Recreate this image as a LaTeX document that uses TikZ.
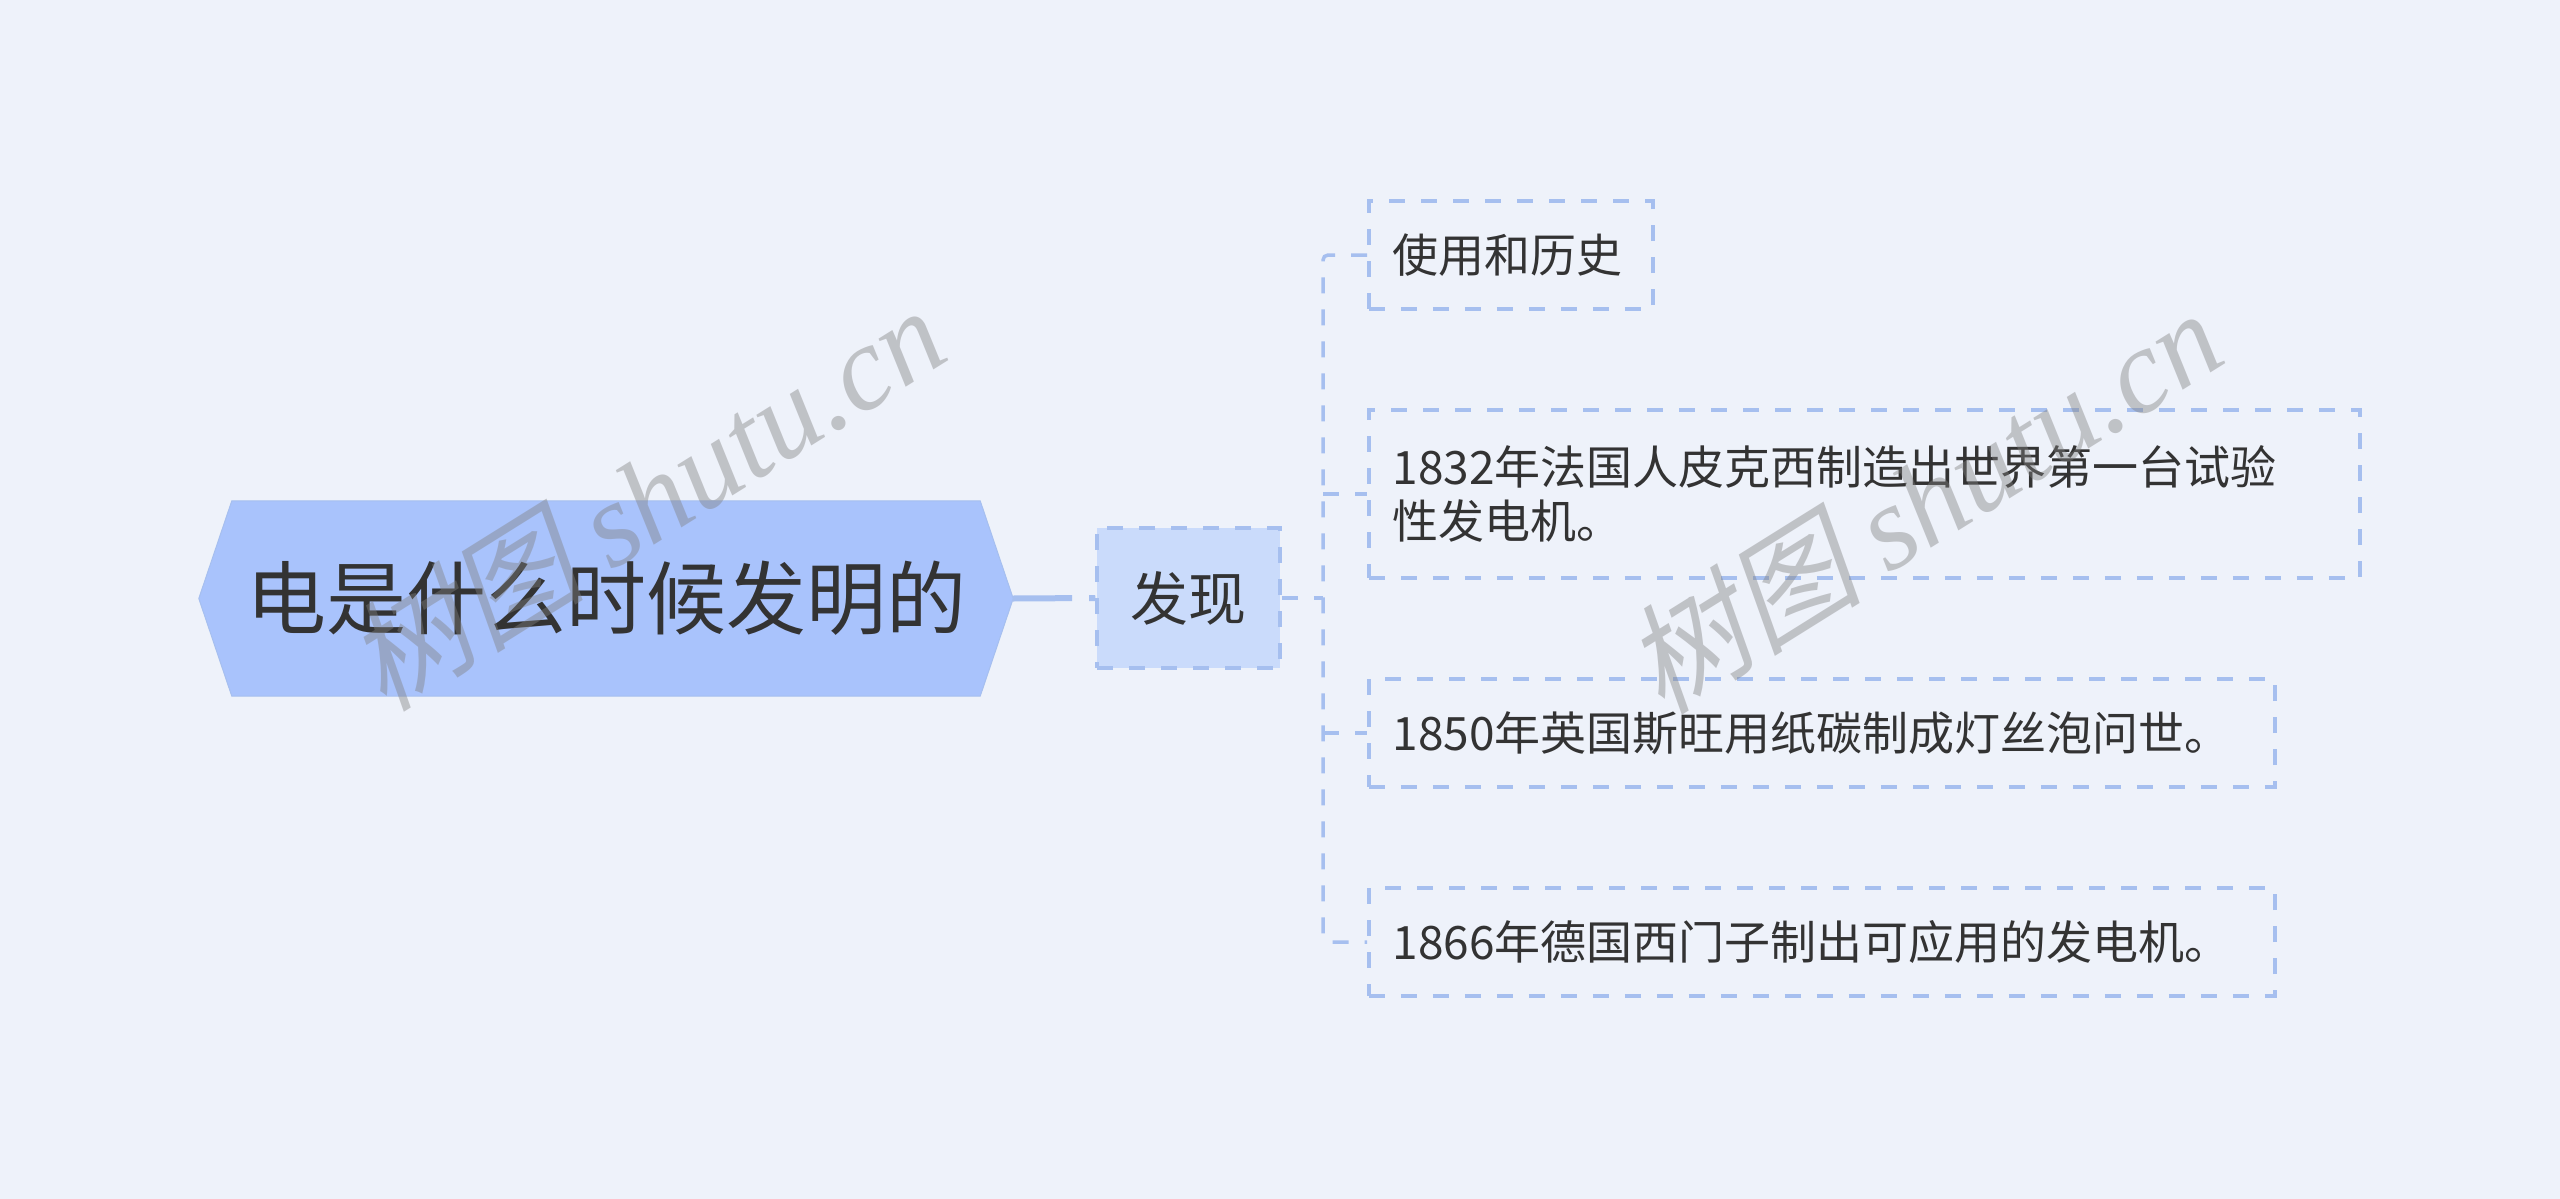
\documentclass[tikz,border=0pt]{standalone}
\usepackage{fontspec}
\setmainfont{Noto Sans CJK SC}
\newfontfamily\wmcjk[FakeSlant=0.22]{Noto Sans CJK SC}
\newfontfamily\wmlat{Liberation Serif}
\usetikzlibrary{backgrounds}
\definecolor{bgc}{HTML}{EEF2FA}
\definecolor{hexc}{HTML}{A9C3FC}
\definecolor{subc}{HTML}{CADBFB}
\definecolor{linec}{HTML}{A6BFEF}
\definecolor{txt}{HTML}{333333}
\definecolor{wmc}{HTML}{808080}
\begin{document}
\begin{tikzpicture}[x=1pt,y=-1pt,
  rootnode/.style={minimum width=748pt, minimum height=195pt, inner sep=0pt,
    text=txt, font=\fontsize{80}{96}\selectfont},
  subnode/.style={minimum width=183pt, minimum height=140pt, inner sep=0pt,
    fill=subc, draw=linec, line width=3.5pt, dash pattern=on 16pt off 16pt,
    text=txt, font=\fontsize{58}{70}\selectfont},
  leafnode/.style={anchor=west, inner xsep=24pt, inner ysep=0pt, align=left,
    draw=linec, line width=3.5pt, dash pattern=on 16pt off 16pt,
    text=txt, font=\fontsize{46}{54}\selectfont},
  dconn/.style={draw=linec, line width=3.5pt, dash pattern=on 16pt off 16pt, rounded corners=5pt},
  sconn/.style={draw=linec, line width=6pt},
  wmark/.style={rotate=32, text=wmc, text opacity=0.42, inner sep=0pt,
    font=\fontsize{120}{126}\selectfont}
]
\begin{pgfonlayer}{background}
  \fill[bgc] (0,0) rectangle (2560,1199);
\end{pgfonlayer}
\useasboundingbox (0,0) rectangle (2560,1199);

\node[rootnode] (root) at (606,598.5) {电是什么时候发明的};
\coordinate (roottip) at ([xshift=33pt]root.east);
\coordinate (roottail) at ([xshift=-33pt]root.west);
\begin{pgfonlayer}{background}
  \filldraw[fill=hexc, draw=linec, line width=1pt]
    (root.north west) -- (root.north east) -- (roottip) -- (root.south east)
    -- (root.south west) -- (roottail) -- cycle;
\end{pgfonlayer}

\node[subnode] (fx) at (1188.5,598) {发现};

\node[leafnode, text width=236pt, minimum height=108pt] (c1) at (1367,255) {使用和历史};
\node[leafnode, text width=943pt, minimum height=168pt] (c2) at (1367,494)
  {1832年法国人皮克西制造出世界第一台试验\\性发电机。};
\node[leafnode, text width=858pt, minimum height=108pt] (c3) at (1367,733) {1850年英国斯旺用纸碳制成灯丝泡问世。};
\node[leafnode, text width=858pt, minimum height=108pt] (c4) at (1367,942) {1866年德国西门子制出可应用的发电机。};

\draw[sconn, dash pattern=on 59pt off 17pt on 20pt off 0pt] (roottip) -- (fx.west);

\coordinate (trunk) at (1323,598);
\draw[dconn] (fx.east) -- (trunk);
\draw[dconn] (c1.west) -| (trunk) |- (c4.west);
\draw[dconn] (trunk |- c2.west) -- (c2.west);
\draw[dconn] (trunk |- c3.west) -- (c3.west);

\node[wmark] (wm1) at (645,497) {{\wmcjk 树图} {\wmlat\itshape shutu.cn}};
\node[wmark] (wm2) at (1922,500) {{\wmcjk 树图} {\wmlat\itshape shutu.cn}};
\end{tikzpicture}
\end{document}
